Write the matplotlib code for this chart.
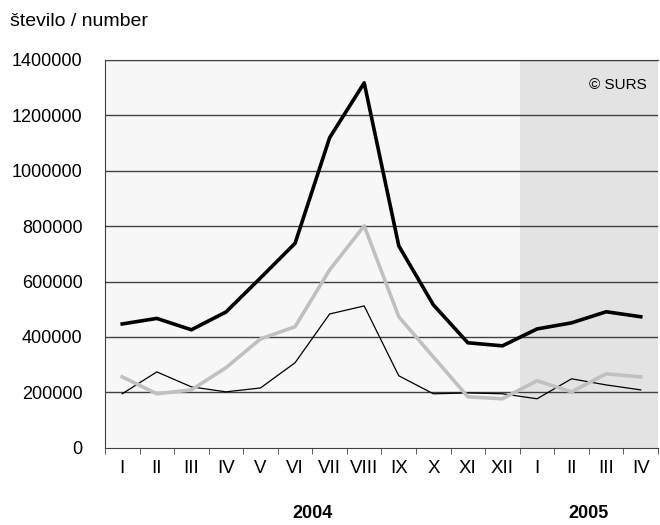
import matplotlib
matplotlib.use('Agg')
import matplotlib.pyplot as plt
import matplotlib.ticker as ticker

plt.rcParams['font.family'] = ['Liberation Sans', 'DejaVu Sans']

months = ['I', 'II', 'III', 'IV', 'V', 'VI', 'VII', 'VIII', 'IX', 'X', 'XI', 'XII',
          'I', 'II', 'III', 'IV']
years = ['2004', '2005']

total = [447000, 467000, 426000, 490000, 613000, 738000, 1119000, 1317000,
         729000, 516000, 379000, 368000, 429000, 451000, 491000, 473000]
series_gray = [256000, 195000, 209000, 289000, 393000, 437000, 642000, 801000,
               473000, 328000, 184000, 177000, 242000, 202000, 267000, 256000]
series_thin = [195000, 274000, 220000, 202000, 216000, 307000, 483000, 512000,
               260000, 195000, 198000, 195000, 177000, 249000, 227000, 209000]

x = list(range(len(months)))

fig = plt.figure(figsize=(6.6, 5.25), dpi=100)
ax = fig.add_axes([0.159, 0.147, 0.838, 0.739])
ax.set_facecolor('#f7f7f7')
ax.axvspan(11.5, 15.5, color='#e3e3e3', zorder=0, lw=0)

for v in range(200000, 1400001, 200000):
    ax.axhline(v, color='#404040', lw=1, zorder=1)

ax.plot(x, series_thin, color='black', lw=0.9, zorder=3)
ax.plot(x, series_gray, color='#c0c0c0', lw=2.6, zorder=4)
ax.plot(x, total, color='black', lw=2.6, zorder=5)

ax.set_xlim(-0.5, 15.5)
ax.set_ylim(0, 1400000)
ax.set_yticks(range(0, 1400001, 200000))
ax.yaxis.set_major_formatter(ticker.FuncFormatter(lambda v, p: '%d' % v))
ax.tick_params(axis='y', length=0, pad=16, labelsize=13)

ax.set_xticks(x)
ax.set_xticklabels(months)
ax.set_xticks([i - 0.5 for i in range(len(months) + 1)], minor=True)
ax.tick_params(axis='x', which='major', length=0, pad=9, labelsize=13.5)
ax.tick_params(axis='x', which='minor', length=4, color='#404040', direction='out')

for s in ['left', 'bottom', 'top']:
    ax.spines[s].set_color('#404040')
ax.spines['right'].set_visible(False)

ax.text(5.5, -0.168, years[0], transform=ax.get_xaxis_transform(), ha='center',
        va='center', fontsize=13, fontweight='bold')
ax.text(13.5, -0.168, years[1], transform=ax.get_xaxis_transform(), ha='center',
        va='center', fontsize=13, fontweight='bold')

ax.text(0.98, 0.936, '© SURS', transform=ax.transAxes, ha='right', va='center', fontsize=11)
fig.text(0.015, 0.96, 'število / number', ha='left', va='center', fontsize=14)

fig.savefig('out.png', dpi=100)
